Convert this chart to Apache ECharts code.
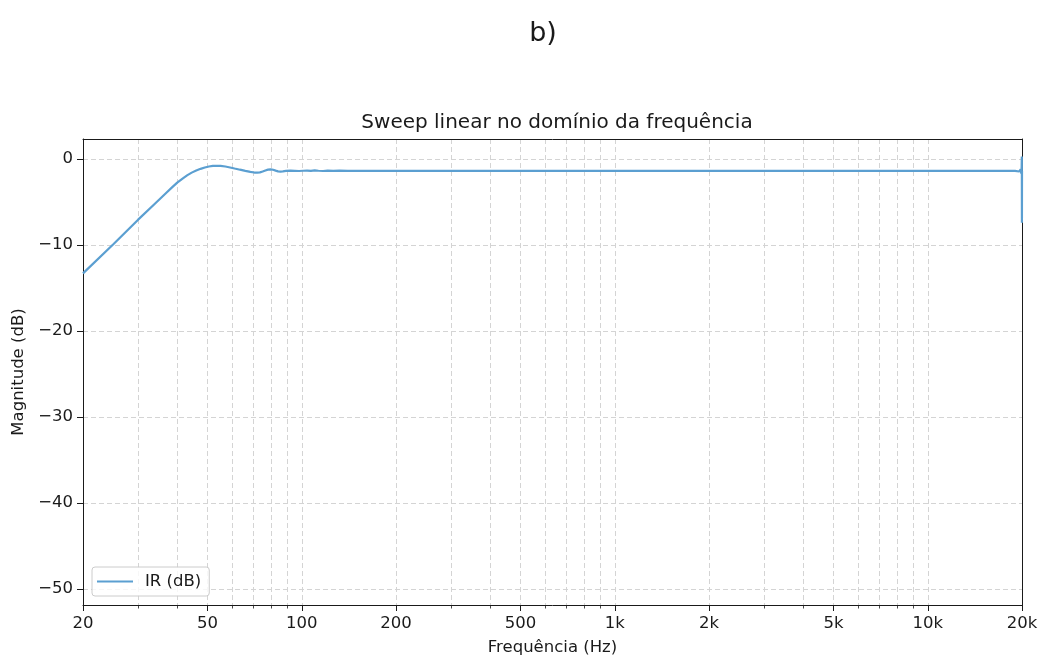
<!DOCTYPE html>
<html>
<head>
<meta charset="utf-8">
<script src="https://cdn.jsdelivr.net/npm/echarts@6/dist/echarts.min.js"></script>
<style>
  html, body { margin: 0; padding: 0; background: #fff; }
  #chart { width: 1040px; height: 657px; }
</style>
</head>
<body>
<div id="chart"></div>
<script>
// Frequency response of the linear sweep (Hz, dB)
const freqHz = [
  20, 25, 30, 34, 37, 38.5, 40, 41.5, 43, 44.5, 46, 47.5, 49, 50.5, 52, 53.5, 55, 57, 59, 61,
  63.5, 66, 68.5, 70.5, 72, 73.5, 75, 76.5, 78, 79.5, 81, 82.5, 84, 85.5, 87, 89, 92, 95, 98,
  101, 104, 107, 110, 113, 117, 121, 126, 132, 140, 150, 165, 180, 200, 250, 300, 400, 500,
  700, 1000, 2000, 3000, 5000, 7000, 10000, 15000, 19000, 19600, 19800, 19900, 19950, 19975,
  19990, 20000
];
const magDb = [
  -13.3, -9.9, -7.05, -5.17, -3.9, -3.3, -2.75, -2.3, -1.9, -1.58, -1.33, -1.14, -0.98, -0.87, -0.8, -0.78, -0.8, -0.87, -0.98, -1.1,
  -1.24, -1.37, -1.49, -1.57, -1.59, -1.55, -1.45, -1.33, -1.23, -1.2, -1.25, -1.35, -1.43, -1.46, -1.44, -1.38, -1.35, -1.37, -1.39,
  -1.36, -1.34, -1.38, -1.31, -1.36, -1.39, -1.34, -1.37, -1.35, -1.38, -1.36, -1.38, -1.37, -1.38, -1.38, -1.38, -1.38, -1.38,
  -1.38, -1.38, -1.38, -1.38, -1.38, -1.38, -1.38, -1.38, -1.38, -1.45, -1.2, -1.7, -0.9, 0.3,
  -7.4, -1.4
];

// Axis ticks
const xMajorTicks = [20, 50, 100, 200, 500, 1000, 2000, 5000, 10000, 20000];
const xMajorLabels = ['20', '50', '100', '200', '500', '1k', '2k', '5k', '10k', '20k'];
const xMinorTicks = [30, 40, 60, 70, 80, 90, 300, 400, 600, 700, 800, 900,
  3000, 4000, 6000, 7000, 8000, 9000];
const yTicks = [-50, -40, -30, -20, -10, 0];

const seriesName = 'IR (dB)';
const lineColor = '#5b9fd1';
const inkColor = '#1a1a1a';
const gridColor = '#d4d4d4';
const font = 'DejaVu Sans';

const lg = Math.log10;
const xMin = lg(20), xMax = lg(20000);
const yMin = -51.86, yMax = 2.33;
const points = freqHz.map((f, i) => [lg(f), magDb[i]]);

// Plain axis used only to draw a frame edge (top / right spines)
const spineAxis = (extra) => Object.assign({
  type: 'value', gridIndex: 0,
  axisLine: { show: true, onZero: false, lineStyle: { color: inkColor, width: 1 } },
  axisTick: { show: false }, axisLabel: { show: false }, splitLine: { show: false }
}, extra);

const chart = echarts.init(document.getElementById('chart'), null, { renderer: 'canvas' });

chart.setOption({
  animation: false,
  backgroundColor: '#ffffff',
  textStyle: { fontFamily: font, color: inkColor },
  title: [
    {
      text: 'b)', left: 538, top: 15, textAlign: 'center',
      textStyle: { fontFamily: font, fontSize: 27, fontWeight: 'normal', color: inkColor }
    },
    {
      text: 'Sweep linear no domínio da frequência', left: 552, top: 108, textAlign: 'center',
      textStyle: { fontFamily: font, fontSize: 20, fontWeight: 'normal', color: inkColor }
    }
  ],
  legend: {
    data: [{ name: seriesName, icon: 'rect' }],
    left: 92, top: 567,
    itemWidth: 36, itemHeight: 2,
    padding: [6, 8, 6, 5],
    backgroundColor: 'rgba(255,255,255,0.8)',
    borderColor: '#cccccc', borderWidth: 1, borderRadius: 3,
    textStyle: { fontFamily: font, fontSize: 16.5, color: inkColor, padding: [0, 0, 0, 7] }
  },
  grid: {
    left: 83, right: 18, top: 139, bottom: 52,
    containLabel: false, outerBoundsMode: 'none', show: false
  },
  xAxis: [
    {
      type: 'value', min: xMin, max: xMax, position: 'bottom',
      name: 'Frequência (Hz)', nameLocation: 'middle', nameGap: 34,
      nameTextStyle: { fontFamily: font, fontSize: 16.5, color: inkColor },
      axisLine: { show: true, onZero: false, lineStyle: { color: inkColor, width: 1 } },
      axisTick: {
        show: true, length: 6, lineStyle: { color: inkColor, width: 1 },
        customValues: xMajorTicks.map(lg)
      },
      axisLabel: {
        show: true, margin: 10, fontFamily: font, fontSize: 16.5, color: inkColor,
        customValues: xMajorTicks.map(lg),
        formatter: v => {
          const f = Math.round(Math.pow(10, v));
          const i = xMajorTicks.indexOf(f);
          return i >= 0 ? xMajorLabels[i] : '';
        }
      },
      splitLine: { show: true, lineStyle: { color: gridColor, type: [5, 3], width: 1 } }
    },
    {
      type: 'value', min: xMin, max: xMax, position: 'bottom', gridIndex: 0,
      axisLine: { show: false, onZero: false },
      axisTick: {
        show: true, length: 3.5, lineStyle: { color: inkColor, width: 0.8 },
        customValues: xMinorTicks.map(lg)
      },
      axisLabel: { show: false },
      splitLine: { show: true, lineStyle: { color: gridColor, type: [5, 3], width: 1 } }
    },
    spineAxis({ min: xMin, max: xMax, position: 'top' })
  ],
  yAxis: [
    {
      type: 'value', min: yMin, max: yMax,
      name: 'Magnitude (dB)', nameLocation: 'middle', nameGap: 56,
      nameTextStyle: { fontFamily: font, fontSize: 16.5, color: inkColor },
      axisLine: { show: true, onZero: false, lineStyle: { color: inkColor, width: 1 } },
      axisTick: { show: true, length: 6, lineStyle: { color: inkColor, width: 1 }, customValues: yTicks },
      axisLabel: {
        show: true, margin: 10, fontFamily: font, fontSize: 16.5, color: inkColor,
        customValues: yTicks,
        formatter: v => (v < 0 ? '\u2212' + Math.abs(v) : String(v))
      },
      splitLine: { show: true, lineStyle: { color: gridColor, type: [5, 3], width: 1 } }
    },
    spineAxis({ min: yMin, max: yMax, position: 'right' })
  ],
  series: [
    {
      name: seriesName, type: 'line', xAxisIndex: 0, yAxisIndex: 0,
      data: points, showSymbol: false, smooth: false, clip: true,
      lineStyle: { color: lineColor, width: 2.2 },
      itemStyle: { color: lineColor }
    }
  ]
});
</script>
</body>
</html>
